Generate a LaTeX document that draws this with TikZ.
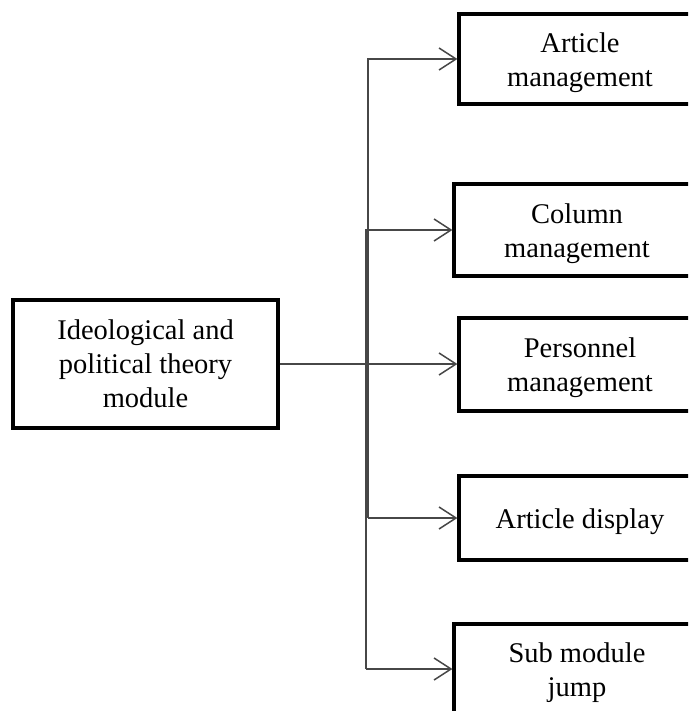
\documentclass[tikz,border=0pt]{standalone}
\usepackage{fontspec}
\setmainfont{Liberation Serif}
\usetikzlibrary{arrows.meta}
\begin{document}
\begin{tikzpicture}[x=1pt,y=-1pt,
  box/.style={draw, line width=3.2pt, inner sep=0pt},
  lbl/.style={align=center, inner sep=0pt, yshift=-3.5pt,
    font=\fontsize{28.5}{34}\selectfont},
  conn/.style={draw=black!72, line width=1.5pt,
    -{Straight Barb[length=17pt,width=22pt,line width=1.5pt]}}
]
\useasboundingbox (0,0) rectangle (688,711);
\clip (0,0) rectangle (688,711);
\node[box, minimum width=265, minimum height=128,
  label={[lbl, yshift=3.5pt]center:{Ideological and\\political theory\\module}}] (main) at (145.5,364) {};
\node[box, minimum width=242, minimum height=90,
  label={[lbl]center:{Article\\management}}] (art) at (580,59) {};
\node[box, minimum width=246, minimum height=92,
  label={[lbl]center:{Column\\management}}] (col) at (577,230) {};
\node[box, minimum width=242, minimum height=93,
  label={[lbl]center:{Personnel\\management}}] (per) at (580,364.5) {};
\node[box, minimum width=242, minimum height=84,
  label={[lbl]center:{Article display}}] (disp) at (580,518) {};
\node[box, minimum width=246, minimum height=90,
  label={[lbl]center:{Sub module\\jump}}] (sub) at (577,669) {};
\coordinate (ta) at (368,0);
\coordinate (tb) at (366,0);
\draw[conn] (main.east) -- (main.east -| per.west);
\draw[conn] (disp.west -| ta) |- (art.west);
\draw[conn] (disp.west -| ta) -- (disp.west);
\draw[conn] (sub.west -| tb) |- (col.west);
\draw[conn] (sub.west -| tb) -- (sub.west);
\end{tikzpicture}
\end{document}
